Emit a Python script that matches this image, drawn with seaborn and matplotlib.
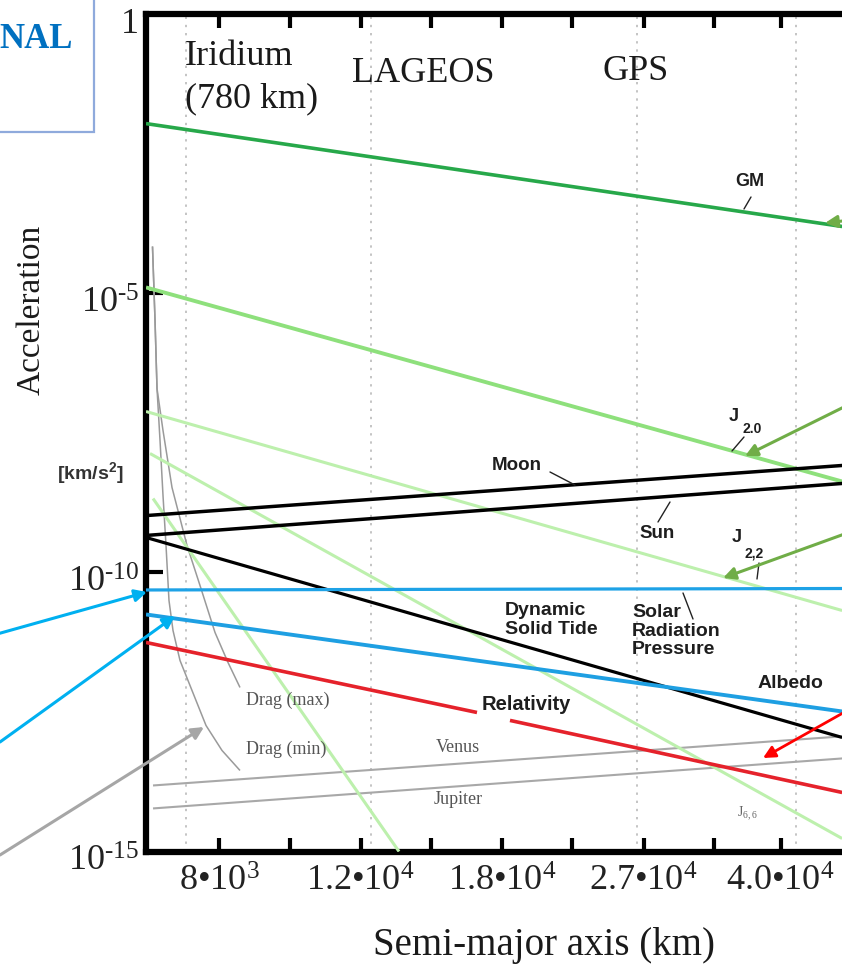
import matplotlib
matplotlib.use("Agg")
import matplotlib.pyplot as plt
from matplotlib.lines import Line2D
from matplotlib.patches import FancyArrowPatch, Rectangle
from matplotlib.ticker import FixedLocator, NullLocator
import matplotlib.transforms as mtransforms
import seaborn as sns

# ---------------------------------------------------------------- data
# span of semi-major axis (km) over which the power-law curves are drawn
a_span = [6490, 47700]

gm_acc = [1.07e-2, 1.54e-4]
j20_acc = [1.25e-5, 4.20e-9]
j22_acc = [7.52e-8, 2.06e-11]
moon_acc = [1.03e-9, 8.12e-9]
sun_acc = [4.54e-10, 3.87e-9]
tide_acc = [4.18e-10, 1.10e-13]
srp_acc = [4.8e-11, 5.1e-11]
albedo_acc = [1.75e-11, 3.21e-13]

j66_a = [6565, 47700]
j66_acc = [1.33e-8, 1.71e-15]
jhigh_a = [6622, 13400]
jhigh_acc = [2.08e-9, 1.0e-15]

rel_a1 = [6490, 16755]
rel_acc1 = [5.52e-12, 3.08e-13]
rel_a2 = [18417, 47700]
rel_acc2 = [2.22e-13, 1.14e-14]

planet_a = [6622, 47700]
venus_acc = [1.52e-14, 1.15e-13]
jupiter_acc = [5.90e-15, 4.63e-14]

drag_max_a = [6612, 6660, 6698, 6814, 6992, 7299, 7576, 7909, 8209, 8496]
drag_max_acc = [6.75e-5, 3.2e-6, 1.94e-7, 3.44e-8, 3.28e-9, 3.01e-10,
                5.78e-11, 8.33e-12, 2.42e-12, 8.63e-13]
drag_min_a = [6612, 6660, 6698, 6756, 6814, 6873, 6932, 7012, 7154, 7362,
              7708, 8069, 8496]
drag_min_acc = [6.75e-5, 3.2e-6, 1.94e-7, 2.28e-8, 2.36e-9, 3.01e-10,
                3.11e-11, 9.05e-12, 2.63e-12, 9.38e-13, 1.8e-13, 6.44e-14,
                2.82e-14]

orbit_a = [7280, 12370, 26500, 41800]          # Iridium, LAGEOS, GPS, GEO

xtick_vals = [8.0e3, 9.8e3, 1.2e4, 1.47e4, 1.8e4, 2.2e4, 2.7e4, 3.3e4, 4.0e4]
xtick_labels = [r"8•$\mathregular{10^{3}}$", "", r"1.2•$\mathregular{10^{4}}$", "",
                r"1.8•$\mathregular{10^{4}}$", "", r"2.7•$\mathregular{10^{4}}$", "",
                r"4.0•$\mathregular{10^{4}}$"]
ytick_vals = [1, 1e-5, 1e-10, 1e-15]
ytick_labels = ["1", r"$\mathregular{10^{‐5}}$", r"$\mathregular{10^{‐10}}$",
                r"$\mathregular{10^{‐15}}$"]

# ---------------------------------------------------------------- style
sns.set_theme(style="white")
plt.rcParams["font.family"] = ["Liberation Serif", "DejaVu Serif"]
plt.rcParams["mathtext.fontset"] = "custom"
plt.rcParams["mathtext.rm"] = "Liberation Serif"

W, H = 842, 966
SERIF = "Liberation Serif"
SANS = "Liberation Sans"


def at(x, y):
    """canvas pixel position (origin top-left) -> figure fraction"""
    return x / W, 1 - y / H


fig = plt.figure(figsize=(W / 100, H / 100), dpi=100)
fig.patch.set_facecolor("white")
left, right, top, bottom = 146, 880, 13.5, 851.5
ax = fig.add_axes([left / W, 1 - bottom / H, (right - left) / W, (bottom - top) / H])
ax.set_xscale("log")
ax.set_yscale("log")
ax.set_xlim(6490, 53170)
ax.set_ylim(1e-15, 1)


def curve(x, y, color, lw, z=3):
    sns.lineplot(x=x, y=y, ax=ax, color=color, linewidth=lw, estimator=None,
                 sort=False, zorder=z, solid_capstyle="butt")


# reference orbits
for a in orbit_a:
    ax.axvline(a, color="#c4c4c4", lw=1.4, ls=(0, (1.2, 3)), zorder=1)

GRAY = "#a8a8a8"
PALE = "#bdf0ad"
curve(planet_a, venus_acc, GRAY, 1.5, 2)
curve(planet_a, jupiter_acc, GRAY, 1.5, 2)
curve(drag_max_a, drag_max_acc, "#9a9a9a", 1.1, 2)
curve(drag_min_a, drag_min_acc, "#9a9a9a", 1.1, 2)
curve(jhigh_a, jhigh_acc, PALE, 2.2)
curve(j66_a, j66_acc, PALE, 2.2)
curve(a_span, j22_acc, PALE, 2.2)
curve(a_span, j20_acc, "#8ee07c", 2.8)
curve(a_span, gm_acc, "#27a84a", 2.6)
curve(a_span, moon_acc, "black", 2.5, 4)
curve(a_span, sun_acc, "black", 2.5, 4)
curve(a_span, tide_acc, "black", 2.3, 4)
curve(a_span, srp_acc, "#1ea2e6", 2.3, 4)
curve(a_span, albedo_acc, "#1e9fe2", 2.8, 4)
curve(rel_a1, rel_acc1, "#e5222b", 2.6, 4)
curve(rel_a2, rel_acc2, "#e5222b", 2.6, 4)

# axes frame and ticks
for side in ["left", "top", "bottom"]:
    ax.spines[side].set_linewidth(4.5)
    ax.spines[side].set_color("black")
ax.spines["right"].set_visible(False)
ax.xaxis.set_major_locator(FixedLocator(xtick_vals))
ax.xaxis.set_minor_locator(NullLocator())
ax.yaxis.set_major_locator(FixedLocator(ytick_vals))
ax.yaxis.set_minor_locator(NullLocator())
ax.set_xticklabels(xtick_labels, fontfamily=SERIF, fontsize=26)
ax.set_yticklabels(ytick_labels, fontfamily=SERIF, fontsize=26)
ax.tick_params(axis="x", direction="in", length=10, width=3, top=True,
               bottom=True, pad=10, colors="black", labelcolor="#222222")
ax.tick_params(axis="y", direction="in", length=12, width=3, left=True,
               pad=5, colors="black", labelcolor="#222222")
shift = mtransforms.ScaledTranslation(0, -5 / 72, fig.dpi_scale_trans)
for lab in ax.get_yticklabels():
    lab.set_transform(lab.get_transform() + shift)
ax.set_xlabel("")
ax.set_ylabel("")

# axis titles
fig.text(*at(544, 955), "Semi-major axis (km)", fontfamily=SERIF, fontsize=28,
         ha="center", va="baseline", color="#1a1a1a")
fig.text(*at(31, 310), "Acceleration", fontfamily=SERIF, fontsize=24,
         rotation=90, ha="center", va="center", color="#1a1a1a")
fig.text(*at(90, 473), r"[km/s$\mathregular{^2}$]", fontfamily=SANS,
         fontweight="bold", fontsize=14, ha="center", va="center", color="#333333")

# orbit names
fig.text(*at(185, 65), "Iridium", fontfamily=SERIF, fontsize=26, va="baseline", color="#1a1a1a")
fig.text(*at(185, 107), "(780 km)", fontfamily=SERIF, fontsize=26, va="baseline", color="#1a1a1a")
fig.text(*at(352, 82), "LAGEOS", fontfamily=SERIF, fontsize=26, va="baseline", color="#1a1a1a")
fig.text(*at(603, 80), "GPS", fontfamily=SERIF, fontsize=26, va="baseline", color="#1a1a1a")

# curve labels
def label(x, y, s, size=14, weight="bold", family=SANS, color="#1e1e1e", ha="center", **kw):
    fig.text(*at(x, y), s, fontfamily=family, fontweight=weight, fontsize=size,
             ha=ha, va="center", color=color, **kw)


def leader(x0, y0, x1, y1):
    fig.add_artist(Line2D([x0 / W, x1 / W], [1 - y0 / H, 1 - y1 / H],
                          transform=fig.transFigure, color="#222222", lw=1.0))


label(750, 182, "GM", size=13)
leader(751, 197, 744, 209)
label(734, 416, "J", size=13)
label(752, 429, "2.0", size=10)
leader(744, 437, 732, 451)
label(517, 465, "Moon", size=13.5)
leader(550, 472, 575, 485)
label(657, 533, "Sun", size=13.5)
leader(670, 502, 658, 522)
label(737, 538, "J", size=13)
label(754, 554, "2,2", size=10)
leader(759, 563, 757, 579)
label(505, 620, "Dynamic\nSolid Tide", size=14, ha="left", linespacing=1.1)
label(632, 631, "Solar\nRadiation\nPressure", size=14, ha="left", linespacing=1.1)
leader(683, 593, 693, 619)
label(790, 683, "Albedo", size=14)
label(526, 705, "Relativity", size=14.5)
label(246, 700, "Drag (max)", size=13, weight="normal", family=SERIF, color="#555555", ha="left")
label(246, 749, "Drag (min)", size=13, weight="normal", family=SERIF, color="#555555", ha="left")
label(458, 748, "Venus", size=13, weight="normal", family=SERIF, color="#555555")
label(458, 800, "Jupiter", size=13, weight="normal", family=SERIF, color="#555555")
label(748, 814, r"J$\mathregular{_{6,6}}$", size=10, weight="normal", family=SERIF, color="#666666")

# pointer arrows
def arrow(x0, y0, x1, y1, color, lw=2.2, scale=18):
    fig.add_artist(FancyArrowPatch(at(x0, y0), at(x1, y1), transform=fig.transFigure,
                                   arrowstyle="-|>", mutation_scale=scale, lw=lw,
                                   color=color, shrinkA=0, shrinkB=0, zorder=6))


BLUE = "#00b0f0"
GREEN = "#70ad47"
arrow(-10, 636, 147, 592, BLUE)
arrow(0, 742, 175, 616, BLUE)
arrow(0, 855, 204, 727, "#a6a6a6")
arrow(860, 219, 825, 223, GREEN)
arrow(850, 404, 745, 456, GREEN)
arrow(850, 532, 723, 578, GREEN)
arrow(850, 709, 763, 758, "#ff0000", lw=2.0)

# title box at the top-left corner
fig.add_artist(Rectangle(at(-6, 132), 100 / W, 140 / H, transform=fig.transFigure,
                         fill=False, ec="#8faadc", lw=1.6))
fig.text(*at(73, 40), "NAL", fontfamily=SERIF, fontweight="bold", fontsize=25,
         ha="right", va="center", color="#0070c0")

fig.savefig("out.png", dpi=100, facecolor="white")
